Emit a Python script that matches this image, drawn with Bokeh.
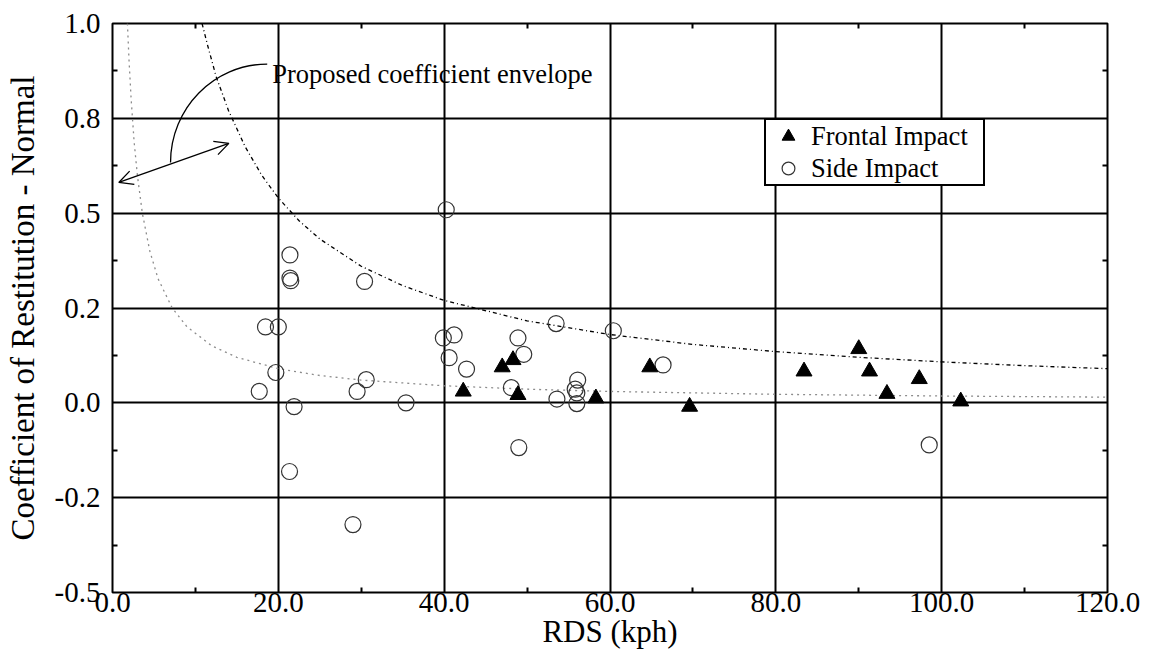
from bokeh.plotting import figure
from bokeh.models import (FixedTicker, LinearAxis, Range1d, Legend, LegendItem,
                          Label, Arrow, OpenHead, PrintfTickFormatter, CustomJSTickFormatter)
from bokeh.embed import file_html
from bokeh.resources import INLINE

FONT = "Liberation Serif"

# ---- data ----
side_x = [21.4, 21.4, 21.5, 30.4, 18.45, 20.0, 19.7, 17.7, 29.5, 30.6, 21.9, 21.35, 29.0,
          35.4, 40.25, 53.5, 60.4, 39.9, 41.2, 40.6, 42.7, 48.9, 49.6, 48.1, 53.6,
          56.1, 55.8, 56.0, 56.0, 66.4, 49.0, 98.5]
side_y = [0.390, 0.329, 0.322, 0.320, 0.200, 0.200, 0.080, 0.030, 0.030, 0.061, -0.010, -0.181, -0.321,
          0.0, 0.509, 0.209, 0.190, 0.171, 0.179, 0.119, 0.089, 0.171, 0.128, 0.040, 0.010,
          0.060, 0.036, 0.026, -0.002, 0.100, -0.118, -0.111]

front_x = [42.3, 47.0, 48.3, 48.9, 58.3, 64.8, 69.6, 83.4, 90.0, 91.3, 93.4, 97.3, 102.3]
front_y = [0.030, 0.094, 0.113, 0.021, 0.012, 0.094, -0.010, 0.083, 0.142, 0.083, 0.024, 0.063, 0.004]

upper_x = [10.8, 11.5, 12.5, 14.0, 16.0, 18.0, 20.0, 22.5, 25.0, 30.0, 35.0, 40.0, 50.0,
           60.0, 70.0, 80.0, 90.0, 100.0, 110.0, 120.0]
upper_y = [1.0, 0.94, 0.86, 0.77, 0.675, 0.60, 0.54, 0.48, 0.432, 0.36, 0.309, 0.27, 0.216,
           0.18, 0.154, 0.135, 0.12, 0.108, 0.098, 0.09]

lower_x = [1.8, 2.0, 2.25, 2.6, 3.0, 3.6, 4.5, 5.5, 7.2, 9.0, 12.0, 15.0, 20.0, 25.0, 30.0,
           40.0, 50.0, 60.0, 80.0, 100.0, 120.0]
lower_y = [1.0, 0.9, 0.8, 0.69, 0.6, 0.5, 0.4, 0.327, 0.25, 0.2, 0.15, 0.12, 0.09, 0.072, 0.06,
           0.045, 0.036, 0.03, 0.0225, 0.018, 0.015]

x_ticks = [0, 20, 40, 60, 80, 100, 120]
x_minor = [10, 30, 50, 70, 90, 110]
y_ticks = [-0.5, -0.25, 0.0, 0.25, 0.5, 0.75, 1.0]
y_tick_labels = ["-0.5", "-0.2", "0.0", "0.2", "0.5", "0.8", "1.0"]
y_minor = [-0.375, -0.125, 0.125, 0.375, 0.625, 0.875]

note_text = "Proposed coefficient envelope"
note_x, note_y = 19.26, 0.866
arc_start = (18.66, 0.893)
arc_end = (7.0, 0.6335)
arc_c0 = (12.22, 0.893)
arc_c1 = (7.0, 0.7768)
arrow_a = (0.76, 0.581)
arrow_b = (14.03, 0.684)

# ---- figure ----
p = figure(width=1150, height=651, x_range=Range1d(0, 120), y_range=Range1d(-0.5, 1.0),
           output_backend="svg", toolbar_location=None,
           min_border_left=112, min_border_top=23, min_border_right=43, min_border_bottom=59)
p.background_fill_color = "white"
p.border_fill_color = "white"
p.outline_line_color = "black"
p.outline_line_width = 2
p.outline_line_alpha = 1

xt = FixedTicker(ticks=x_ticks, minor_ticks=x_minor)
yt = FixedTicker(ticks=y_ticks, minor_ticks=y_minor)
yfmt = CustomJSTickFormatter(args=dict(tvals=y_ticks, tlabels=y_tick_labels), code="""
const i = tvals.findIndex(t => Math.abs(t - tick) < 1e-9);
return i >= 0 ? tlabels[i] : "";
""")


def style_axis(ax):
    ax.axis_line_color = None
    ax.major_tick_in = 0
    ax.major_tick_out = 0
    ax.minor_tick_in = 5
    ax.minor_tick_out = 0
    ax.minor_tick_line_color = "black"
    ax.minor_tick_line_width = 2
    ax.major_label_text_font = FONT
    ax.major_label_text_color = "black"
    ax.axis_label_text_font = FONT
    ax.axis_label_text_font_style = "normal"
    ax.axis_label_text_color = "black"


xa = p.xaxis[0]
xa.ticker = xt
xa.formatter = PrintfTickFormatter(format="%.1f")
style_axis(xa)
xa.major_label_text_font_size = "29px"
xa.major_label_standoff = 0
xa.axis_label = "RDS (kph)"
xa.axis_label_text_font_size = "31px"
xa.axis_label_standoff = -1

ya = p.yaxis[0]
ya.ticker = yt
ya.formatter = yfmt
style_axis(ya)
ya.major_label_text_font_size = "29px"
ya.major_label_standoff = 12
ya.axis_label = "Coefficient of Restitution - Normal"
ya.axis_label_text_font_size = "33px"
ya.axis_label_standoff = 11

# right / top frame sides: inward minor ticks only, no labels
for loc, mt in (("right", y_minor), ("above", x_minor)):
    ax = LinearAxis(ticker=FixedTicker(ticks=[], minor_ticks=mt))
    style_axis(ax)
    ax.major_label_standoff = 0
    p.add_layout(ax, loc)

for g, tk in ((p.xgrid[0], xt), (p.ygrid[0], yt)):
    g.ticker = tk
    g.grid_line_color = "black"
    g.grid_line_width = 2
    g.grid_line_alpha = 1

# envelope curves
p.line(lower_x, lower_y, line_color="#8c8c8c", line_dash="2 4", line_width=1.3)
p.line(upper_x, upper_y, line_color="black", line_dash="4 3 1 3", line_width=1.3)

# annotation
p.bezier(x0=[arc_start[0]], y0=[arc_start[1]], x1=[arc_end[0]], y1=[arc_end[1]],
         cx0=[arc_c0[0]], cy0=[arc_c0[1]], cx1=[arc_c1[0]], cy1=[arc_c1[1]],
         line_color="black", line_width=1.3)
p.add_layout(Arrow(start=OpenHead(size=14, line_width=1.3, line_color="black"),
                   end=OpenHead(size=14, line_width=1.3, line_color="black"),
                   x_start=arrow_a[0], y_start=arrow_a[1], x_end=arrow_b[0], y_end=arrow_b[1],
                   line_width=1.3, line_color="black"))
p.add_layout(Label(x=note_x, y=note_y, text=note_text, text_font=FONT, text_font_size="26.5px",
                   text_baseline="alphabetic", text_color="black"))

# data
r_side = p.scatter(side_x, side_y, marker="circle", size=16, fill_color=None,
                   line_color="#333333", line_width=1.2)
r_front = p.scatter(front_x, front_y, marker="triangle", size=16, fill_color="black",
                    line_color="black")

legend = Legend(items=[LegendItem(label="Frontal Impact", renderers=[r_front]),
                       LegendItem(label="Side Impact", renderers=[r_side])],
                location=(652, 406), orientation="vertical",
                glyph_width=44, glyph_height=32, label_height=32, label_width=172,
                spacing=-4, padding=0, margin=0, label_standoff=1,
                border_line_color="black", border_line_width=2, border_line_alpha=1,
                background_fill_color="white", background_fill_alpha=1,
                label_text_font=FONT, label_text_font_size="26.5px",
                label_text_baseline="middle", label_text_color="black")
p.add_layout(legend, "center")

open("out.html", "w").write(file_html(p, INLINE))
